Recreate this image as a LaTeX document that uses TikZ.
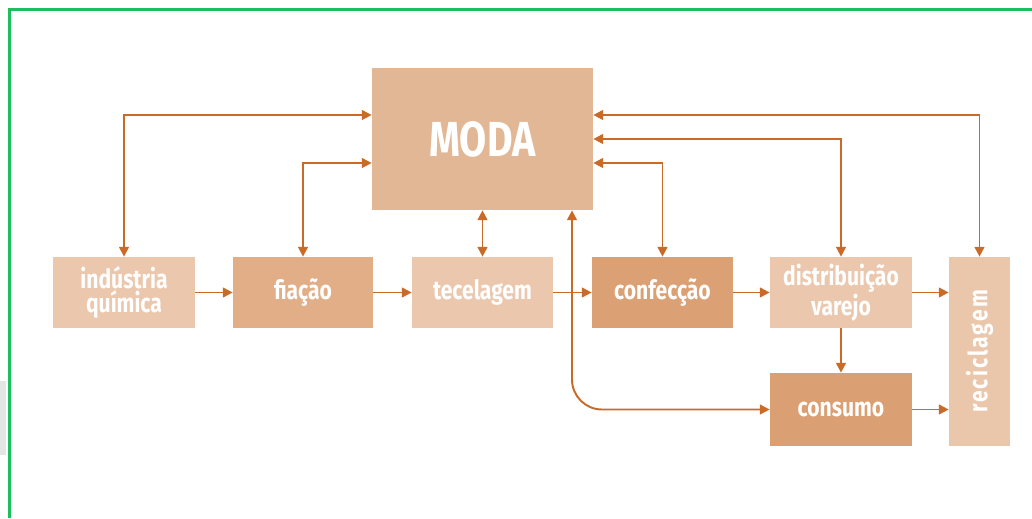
\documentclass[tikz,border=0pt]{standalone}
\usepackage{fontspec}
\setmainfont{Fira Sans}[FakeStretch=0.8]
\usetikzlibrary{%
	arrows.meta,%
	positioning%
}
\definecolor{corseta}{HTML}{C96A28}
\definecolor{verde}{HTML}{1BC05C}
\definecolor{claro}{HTML}{EBC8AD}
\definecolor{medio}{HTML}{E1AE87}
\definecolor{escuro}{HTML}{DA9F72}
\definecolor{moda}{HTML}{E2B795}

\tikzset{
	caixa/.style={fill=claro, text=white, align=center, inner sep=0pt,
		minimum width=2.82cm, minimum height=1.42cm,
		font=\bfseries\fontsize{15}{14}\selectfont},
	seta/.style={draw=corseta, line width=1.1pt}
}

\begin{document}
\begin{tikzpicture}[>={Triangle[length=5.5pt,width=5.5pt]}]
		\useasboundingbox (0,0) rectangle (20.64,-10.36);
		% moldura
		\fill[gray!20] (0,-7.62) rectangle (0.12,-9.1);
		\draw[verde, line width=2.2pt] (0.19,-10.36) -- (0.19,-0.19) -- (20.64,-0.19);
		% caixas
		\node[caixa, fill=moda, minimum width=4.42cm, minimum height=2.84cm,
			font=\bfseries\fontsize{28}{30}\selectfont] (M) at (9.65,-2.78) {MODA};
		\node[caixa, minimum width=2.84cm] (A) at (2.48,-5.85) {indústria\\química};
		\node[caixa, fill=medio, minimum width=2.80cm] (B) at (6.06,-5.85) {fiação};
		\node[caixa] (C) at (9.65,-5.85) {tecelagem};
		\node[caixa, fill=escuro!90!medio] (D) at (13.25,-5.85) {confecção};
		\node[caixa, minimum width=2.84cm] (E) at (16.82,-5.85) {distribuição\\varejo};
		\node[caixa, fill=escuro, minimum width=2.84cm, minimum height=1.46cm] (F) at (16.82,-8.19) {consumo};
		\node[caixa, fill=claro!95!medio, minimum width=1.22cm, minimum height=3.78cm] (G) at (19.59,-7.03)
			{\rotatebox{90}{\addfontfeature{LetterSpace=8}reciclagem}};
		% cadeia
		\draw[seta, ->] (A) -- (B);
		\draw[seta, ->] (B) -- (C);
		\draw[seta, ->] (C) -- (D);
		\draw[seta, ->] (D) -- (E);
		\draw[seta, ->] (E.east) -- (E.east -| G.west);
		\draw[seta, ->] (E) -- (F);
		\draw[seta, ->] (F.east) -- (F.east -| G.west);
		% ligacoes com a moda
		\draw[seta, <->] ([yshift=0.48cm]M.west) -| (A.north);
		\draw[seta, <->] ([yshift=-0.48cm]M.west) -| (B.north);
		\draw[seta, <->] (M) -- (C);
		\draw[seta, <->] ([yshift=0.48cm]M.east) -| (G.north);
		\draw[seta, <->] (M.east) -| (E.north);
		\draw[seta, <->] ([yshift=-0.48cm]M.east) -| (D.north);
		\draw[seta, <->, rounded corners=0.6cm] ([xshift=1.79cm]M.south) |- (F.west);
	\end{tikzpicture}
\end{document}
